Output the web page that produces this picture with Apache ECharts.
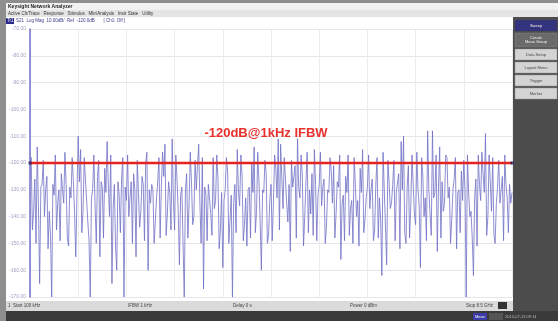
<!DOCTYPE html>
<html>
<head>
<meta charset="utf-8">
<script src="https://cdn.jsdelivr.net/npm/echarts@6/dist/echarts.min.js"></script>
<style>
  html, body { margin: 0; padding: 0; background: #fff; }
  #chart { width: 558px; height: 321px; }
</style>
</head>
<body>
<div id="chart"></div>
<script>
// y-axis tick labels (dB), top to bottom
const yTicks = [-70, -80, -90, -100, -110, -120, -130, -140, -150, -160, -170]
// reference level (red line)
const refLevel = -120
const refLabel = '-120dB@1kHz IFBW'
// S21 trace, 401 points (dB)
const trace = [
  -121, -118, -145, -138, -126, -150, -114, -136, -165, -129, -128, -119, -140, -130, -125, -152, -138, -147, -170, -128,
  -132, -117, -145, -135, -130, -149, -124, -130, -135, -116, -128, -148, -151, -129, -133, -118, -127, -139, -155, -131,
  -110, -127, -115, -146, -138, -118, -126, -134, -142, -149, -170, -133, -130, -117, -136, -150, -125, -119, -155, -127,
  -129, -148, -122, -131, -112, -128, -140, -117, -165, -137, -128, -151, -160, -127, -132, -146, -126, -118, -170, -129,
  -134, -117, -140, -133, -127, -150, -124, -130, -155, -119, -131, -144, -138, -125, -128, -149, -120, -116, -160, -130,
  -135, -128, -130, -150, -142, -133, -127, -118, -148, -129, -116, -125, -113, -147, -139, -127, -131, -145, -111, -134,
  -145, -117, -126, -138, -158, -132, -129, -150, -170, -130, -124, -148, -136, -116, -127, -143, -140, -119, -130, -121,
  -113, -135, -150, -118, -167, -129, -132, -149, -128, -133, -139, -147, -118, -137, -134, -117, -126, -152, -145, -131,
  -159, -134, -130, -118, -123, -150, -141, -132, -170, -135, -128, -146, -115, -131, -136, -117, -125, -149, -143, -133,
  -151, -130, -129, -148, -120, -131, -114, -146, -138, -116, -127, -142, -160, -130, -131, -119, -124, -150, -147, -134,
  -128, -149, -135, -117, -122, -133, -111, -145, -113, -126, -137, -118, -126, -135, -142, -128, -153, -119, -129, -125,
  -121, -148, -111, -129, -133, -117, -125, -151, -140, -127, -116, -146, -130, -139, -124, -147, -115, -128, -149, -132,
  -128, -116, -136, -129, -126, -150, -144, -130, -131, -118, -123, -135, -121, -148, -139, -127, -129, -117, -156, -135,
  -132, -149, -125, -131, -117, -147, -137, -134, -150, -118, -128, -140, -134, -151, -122, -131, -115, -146, -141, -133,
  -129, -117, -137, -130, -126, -149, -145, -128, -118, -148, -133, -141, -162, -116, -130, -144, -158, -119, -127, -137,
  -135, -128, -119, -149, -131, -127, -124, -152, -112, -130, -110, -146, -150, -129, -121, -148, -136, -117, -128, -139,
  -143, -116, -130, -136, -159, -118, -125, -140, -133, -149, -108, -130, -139, -147, -108, -133, -131, -117, -153, -129,
  -114, -148, -127, -138, -135, -117, -118, -133, -129, -150, -141, -130, -126, -118, -152, -131, -130, -146, -123, -134,
  -119, -130, -170, -117, -131, -140, -138, -148, -162, -133, -126, -151, -117, -128, -134, -116, -124, -131, -109, -147,
  -140, -117, -127, -138, -118, -147, -150, -135, -129, -119, -135, -130, -125, -149, -117, -128, -133, -146, -128, -135,
  -131
]
// status bar texts
const statusTexts = ['1  Start 100 kHz', 'IFBW 1 kHz', 'Delay 0 s', 'Power 0 dBm', 'Stop 8.5 GHz']
const statusX = [8, 128, 233, 350, 466]
// soft key labels
const softKeys = ['Sweep', 'Create\nMeas Group', 'Data Setup', 'Layout Menu', 'Trigger', 'Marker']

const lastIdx = trace.length - 1
const traceData = trace.map((v, i) => [i, v])

const chart = echarts.init(document.getElementById('chart'))

// 屏幕外框和按键，只是装饰
const chrome = [
  { type: 'rect', shape: { x: 0, y: 0, width: 558, height: 3 }, style: { fill: '#8e8e8e' } },
  { type: 'rect', shape: { x: 0, y: 0, width: 6, height: 321 }, style: { fill: '#8e8e8e' } },
  { type: 'rect', shape: { x: 6, y: 3, width: 552, height: 7 }, style: { fill: '#f2f2f2' } },
  { type: 'text', style: { x: 8, y: 6.5, text: 'Keysight Network Analyzer', font: 'bold 5px Liberation Sans', fill: '#222', verticalAlign: 'middle' } },
  { type: 'rect', shape: { x: 6, y: 10, width: 552, height: 7 }, style: { fill: '#e4e4e4' } },
  { type: 'text', style: { x: 8, y: 13.5, text: 'Active Ch/Trace   Response   Stimulus   Mkr/Analysis   Instr State   Utility', font: '4.5px Liberation Sans', fill: '#333', verticalAlign: 'middle' } },
  { type: 'rect', shape: { x: 6, y: 18, width: 8, height: 6 }, style: { fill: '#2a2a8a' } },
  { type: 'text', style: { x: 7, y: 21, text: 'Tr1', font: '4.5px Liberation Sans', fill: '#fff', verticalAlign: 'middle' } },
  { type: 'text', style: { x: 16, y: 21, text: 'S21  Log Mag  10.00dB/  Ref  -120.0dB       [ Ch1: Off ]', font: '4.5px Liberation Sans', fill: '#3a3a8a', verticalAlign: 'middle' } },
  { type: 'rect', shape: { x: 513, y: 17, width: 45, height: 304 }, style: { fill: '#4c4c4c' } },
  { type: 'rect', shape: { x: 515, y: 20, width: 42, height: 11 }, style: { fill: '#34347e' } },
  { type: 'rect', shape: { x: 515, y: 33, width: 42, height: 14 }, style: { fill: '#6a6a6a', stroke: '#888', lineWidth: 0.5 } },
  { type: 'rect', shape: { x: 515, y: 49, width: 42, height: 11 }, style: { fill: '#d4d4d4', stroke: '#999', lineWidth: 0.5 } },
  { type: 'rect', shape: { x: 515, y: 62, width: 42, height: 11 }, style: { fill: '#d4d4d4', stroke: '#999', lineWidth: 0.5 } },
  { type: 'rect', shape: { x: 515, y: 75, width: 42, height: 11 }, style: { fill: '#d4d4d4', stroke: '#999', lineWidth: 0.5 } },
  { type: 'rect', shape: { x: 515, y: 88, width: 42, height: 11 }, style: { fill: '#d4d4d4', stroke: '#999', lineWidth: 0.5 } },
  { type: 'rect', shape: { x: 6, y: 301, width: 507, height: 10 }, style: { fill: '#dadada' } },
  { type: 'rect', shape: { x: 6, y: 311, width: 552, height: 10 }, style: { fill: '#3a3a3a' } },
  { type: 'rect', shape: { x: 473, y: 313, width: 14, height: 7 }, style: { fill: '#3c3ca6' } },
  { type: 'text', style: { x: 475, y: 316.5, text: 'Meas', font: '4px Liberation Sans', fill: '#fff', verticalAlign: 'middle' } },
  { type: 'rect', shape: { x: 489, y: 313, width: 14, height: 7 }, style: { fill: '#555' } },
  { type: 'text', style: { x: 505, y: 316.5, text: '2015-07-13 09:14', font: '4px Liberation Sans', fill: '#bbb', verticalAlign: 'middle' } },
  { type: 'rect', shape: { x: 498, y: 302, width: 9, height: 7 }, style: { fill: '#333' } }
]
const keyY = [25.5, 40, 54.5, 67.5, 80.5, 93.5]
softKeys.forEach((k, i) => {
  chrome.push({
    type: 'text',
    style: {
      x: 536, y: keyY[i], text: k, font: '4px Liberation Sans',
      fill: i < 2 ? '#eee' : '#444', align: 'center', verticalAlign: 'middle'
    }
  })
})
statusTexts.forEach((t, i) => {
  chrome.push({
    type: 'text',
    style: { x: statusX[i], y: 306, text: t, font: '4.5px Liberation Sans', fill: '#444', verticalAlign: 'middle' }
  })
})
// 红色标注放在最上层
chrome.push({
  type: 'text',
  z: 100,
  style: {
    x: 266, y: 133, text: refLabel, font: 'bold 13px Liberation Sans',
    fill: '#e8302c', align: 'center', verticalAlign: 'middle'
  }
})

const option = {
  backgroundColor: '#fff',
  animation: false,
  grid: {
    left: 30,
    top: 29,
    right: 46,
    bottom: 24
  },
  xAxis: {
    type: 'value',
    min: 0,
    max: lastIdx,
    interval: 40,
    axisLine: { show: false },
    axisTick: { show: false },
    axisLabel: { show: false },
    splitLine: { lineStyle: { color: '#ececf0', width: 1 } }
  },
  yAxis: {
    type: 'value',
    min: yTicks[yTicks.length - 1],
    max: yTicks[0],
    interval: 10,
    axisLine: { show: true, onZero: false, lineStyle: { color: '#6f6fc8', width: 1.5 } },
    axisTick: { show: false },
    axisLabel: {
      margin: 4,
      fontSize: 5,
      color: '#9ea2c2',
      fontFamily: 'Liberation Sans',
      formatter: v => v.toFixed(2)
    },
    splitLine: { lineStyle: { color: '#e6e6ea', width: 1 } }
  },
  graphic: chrome,
  series: [
    {
      name: 'S21',
      type: 'line',
      data: traceData,
      showSymbol: false,
      lineStyle: { color: '#7070c6', width: 1, opacity: 0.8 },
      z: 2
    },
    {
      name: 'ref',
      type: 'line',
      data: [[0, refLevel], [lastIdx, refLevel]],
      showSymbol: false,
      lineStyle: { color: '#e2231f', width: 2.5 },
      z: 3
    },
    {
      name: 'refEnds',
      type: 'scatter',
      data: [[0, refLevel], [lastIdx, refLevel]],
      symbol: 'rect',
      symbolSize: 3,
      itemStyle: { color: '#20205e' },
      z: 4
    }
  ]
}
chart.setOption(option)
</script>
</body>
</html>
